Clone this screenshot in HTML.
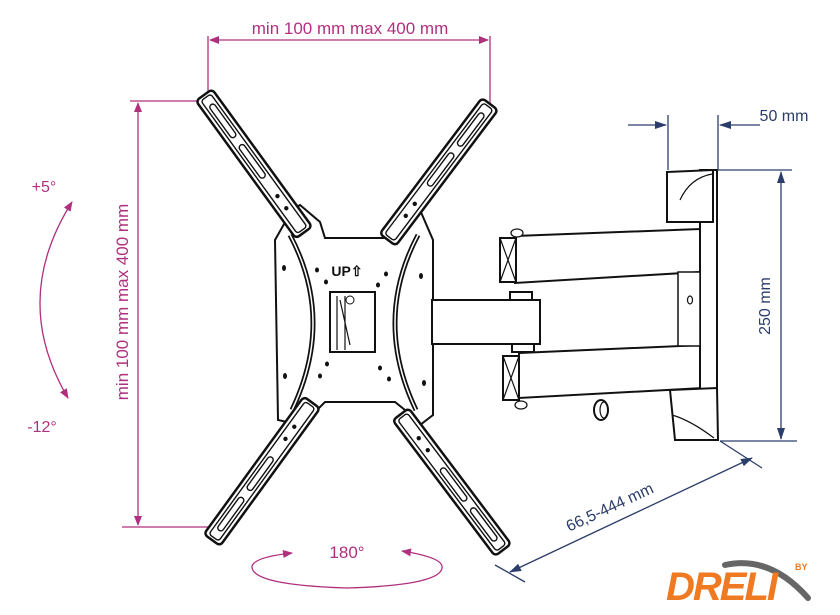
<!DOCTYPE html>
<html><head><meta charset="utf-8"><style>
html,body{margin:0;padding:0;background:#fff;width:840px;height:615px;overflow:hidden}
svg{display:block}
text{font-family:"Liberation Sans",sans-serif}
</style></head><body>
<svg width="840" height="615" viewBox="0 0 840 615" xmlns="http://www.w3.org/2000/svg">
<defs>
<marker id="am" markerWidth="10" markerHeight="8" refX="9" refY="4" orient="auto-start-reverse" markerUnits="userSpaceOnUse"><path d="M0,0 L10,4 L0,8 Z" fill="#b0307e"/></marker>
<marker id="an" markerWidth="12" markerHeight="8" refX="11" refY="4" orient="auto-start-reverse" markerUnits="userSpaceOnUse"><path d="M0,0 L12,4 L0,8 Z" fill="#2b3d6b"/></marker>
<g id="bar">
<rect x="-10" y="0" width="20" height="170" rx="4" fill="#fff" stroke="#111" stroke-width="2.5"/>
<rect x="-6" y="3" width="12" height="164" rx="3" fill="none" stroke="#111" stroke-width="1.4"/>
<rect x="-3" y="12" width="6" height="40" rx="3" fill="none" stroke="#111" stroke-width="1.4"/>
<rect x="-3" y="62" width="6" height="40" rx="3" fill="none" stroke="#111" stroke-width="1.4"/>
<circle cx="0" cy="125" r="2.2" fill="#111"/><circle cx="0" cy="140" r="2.2" fill="#111"/>
</g>
</defs>

<g stroke="#b0307e" stroke-width="1.3" fill="none">
<line x1="208" y1="36" x2="208" y2="95"/>
<line x1="490" y1="36" x2="490" y2="110"/>
<line x1="210" y1="40" x2="488" y2="40" marker-start="url(#am)" marker-end="url(#am)"/>
<line x1="130" y1="101" x2="202" y2="101"/>
<line x1="122" y1="527" x2="212" y2="527"/>
<line x1="138" y1="103" x2="138" y2="525" marker-start="url(#am)" marker-end="url(#am)"/>
<path d="M72,202 Q10,300 68,398" marker-start="url(#am)" marker-end="url(#am)"/>
<path d="M292,553 Q255,557 252,566 Q250,585 347,588 Q445,585 442,566 Q440,557 402,551" marker-start="url(#am)" marker-end="url(#am)"/>
</g>
<text x="350" y="34" font-size="17" fill="#b0307e" text-anchor="middle">min 100 mm max 400 mm</text>
<text x="128" y="302" font-size="17" fill="#b0307e" text-anchor="middle" transform="rotate(-90 128 302)">min 100 mm max 400 mm</text>
<text x="44" y="192" font-size="16" fill="#b0307e" text-anchor="middle">+5°</text>
<text x="42" y="432" font-size="16" fill="#b0307e" text-anchor="middle">-12°</text>
<text x="347" y="558" font-size="17" fill="#b0307e" text-anchor="middle">180°</text>

<path d="M275,240 L292,210 L300,205 L320,222 L325,238 L390,238 L398,222 L410,205 L420,210 L433,240 L433,415 L420,425 L405,410 L395,402 L325,402 L315,412 L300,425 L278,420 Z" fill="#fff" stroke="#111" stroke-width="2"/>
<path d="M290,235 Q335,320 292,410" fill="none" stroke="#111" stroke-width="5"/>
<path d="M290,235 Q335,320 292,410" fill="none" stroke="#fff" stroke-width="1.5"/>
<path d="M418,235 Q373,320 416,410" fill="none" stroke="#111" stroke-width="5"/>
<path d="M418,235 Q373,320 416,410" fill="none" stroke="#fff" stroke-width="1.5"/>
<rect x="330" y="292" width="45" height="60" fill="#fff" stroke="#111" stroke-width="2"/>
<path d="M337,296 L337,350 M345,296 L345,350 M340,300 L350,345" stroke="#111" stroke-width="1.2" fill="none"/>
<circle cx="350" cy="300" r="4" fill="none" stroke="#111"/>
<text x="347" y="276" font-size="14" font-weight="bold" fill="#111" text-anchor="middle">UP⇧</text>
<g fill="#111">
<ellipse cx="284" cy="268" rx="2" ry="3"/><ellipse cx="317" cy="270" rx="2" ry="2.5"/><ellipse cx="326" cy="282" rx="2" ry="2.5"/>
<ellipse cx="386" cy="274" rx="2" ry="2.5"/><ellipse cx="378" cy="285" rx="2" ry="2.5"/><ellipse cx="421" cy="276" rx="2" ry="3"/>
<ellipse cx="285" cy="376" rx="2" ry="3"/><ellipse cx="320" cy="376" rx="2" ry="2.5"/><ellipse cx="327" cy="364" rx="2" ry="2.5"/>
<ellipse cx="380" cy="368" rx="2" ry="2.5"/><ellipse cx="389" cy="379" rx="2" ry="2.5"/><ellipse cx="424" cy="383" rx="2" ry="3"/>
</g>
<use href="#bar" transform="translate(204,95) rotate(-36)"/>
<use href="#bar" transform="translate(490,104) rotate(37)"/>
<use href="#bar" transform="translate(212,540) rotate(-144)"/>
<use href="#bar" transform="translate(503,550) rotate(143)"/>

<g fill="#fff" stroke="#111" stroke-width="2">
<rect x="432" y="300" width="108" height="44"/>
<rect x="510" y="292" width="22" height="8"/><rect x="512" y="344" width="22" height="8"/>
<path d="M515,236 L700,229 L700,272 L515,283 Z"/>
<rect x="500" y="238" width="16" height="44"/>
<path d="M519,353 L703,345 L703,388 L519,398 Z"/>
<rect x="503" y="356" width="16" height="44"/>
<rect x="700" y="170" width="17" height="270"/>
<path d="M667,172 L713,170 L713,222 L667,222 Z"/>
<path d="M670,390 L717,388 L718,440 L675,440 Z"/>
<rect x="678" y="272" width="22" height="74" stroke-width="1.5"/>
</g>
<g stroke="#111" stroke-width="1.2" fill="none">
<path d="M500,238 L516,282 M516,238 L500,282 M503,356 L519,400 M519,356 L503,400"/>
<path d="M680,200 Q690,178 712,174 M672,415 Q690,420 714,438"/>
<ellipse cx="601" cy="410" rx="7" ry="10" stroke-width="2"/>
<ellipse cx="604" cy="410" rx="4" ry="8"/>
<ellipse cx="690" cy="300" rx="2.5" ry="4"/>
<ellipse cx="517" cy="233" rx="6" ry="4" fill="#fff"/><ellipse cx="521" cy="405" rx="6" ry="4" fill="#fff"/>
</g>

<g stroke="#2b3d6b" stroke-width="1.3" fill="none">
<line x1="668" y1="115" x2="668" y2="170"/>
<line x1="718" y1="115" x2="718" y2="170"/>
<line x1="628" y1="125" x2="666" y2="125" marker-end="url(#an)"/>
<line x1="760" y1="125" x2="720" y2="125" marker-end="url(#an)"/>
<line x1="718" y1="170" x2="792" y2="170"/>
<line x1="720" y1="441" x2="797" y2="441"/>
<line x1="781" y1="172" x2="781" y2="439" marker-start="url(#an)" marker-end="url(#an)"/>
<line x1="720" y1="441" x2="762" y2="468"/>
<line x1="495" y1="565" x2="525" y2="582"/>
<line x1="510" y1="572" x2="752" y2="458" marker-start="url(#an)" marker-end="url(#an)"/>
</g>
<text x="784" y="121" font-size="16" fill="#2b3d6b" text-anchor="middle">50 mm</text>
<text x="770" y="306" font-size="16" fill="#2b3d6b" text-anchor="middle" transform="rotate(-90 770 306)">250 mm</text>
<text x="612" y="512" font-size="16" fill="#2b3d6b" text-anchor="middle" transform="rotate(-25 612 512)">66,5-444 mm</text>

<path d="M725,565 Q770,555 808,598" stroke="#666" stroke-width="6" fill="none" stroke-linecap="round"/>
<text x="666" y="600" font-size="40" font-weight="bold" font-style="italic" fill="#f07a22" letter-spacing="-2">DRELI</text>
<text x="795" y="570" font-size="9" font-weight="bold" fill="#f07a22">BY</text>
</svg>
</body></html>
